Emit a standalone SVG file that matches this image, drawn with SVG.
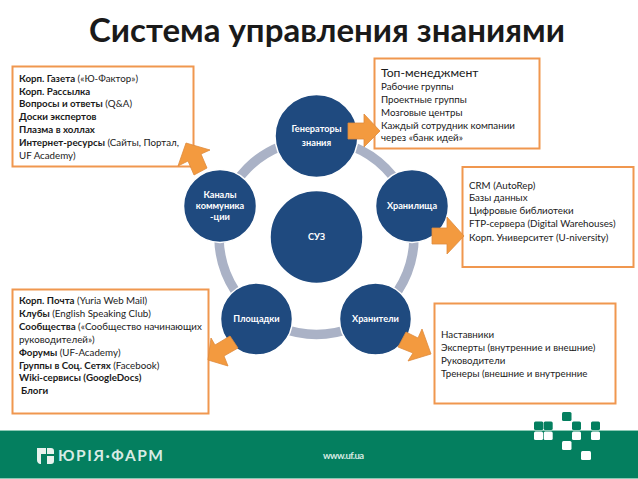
<svg xmlns="http://www.w3.org/2000/svg" width="638" height="479" viewBox="0 0 638 479">
<style>
text{font-family:Lato,"Open Sans","Noto Sans",sans-serif;fill:#1a1a1a}
.t{font-size:9.75px}
.b{font-weight:700}
.box{fill:#fff;stroke:#F0974F;stroke-width:2}
.n{fill:#1F4A7F;stroke:#fff;stroke-width:1.5}
.nt{font-size:9.2px;font-weight:700;fill:#fff;text-anchor:middle}
.ar{fill:#F39A3F;stroke:#DE8A3C;stroke-width:.8}
.sq{fill:#fff}
.sg{fill:#047F5F}
</style>
<rect width="638" height="479" fill="#fff"/>
<text x="327" y="42" text-anchor="middle" font-size="33" class="b" fill="#111">Система управления знаниями</text>
<g id="footer">
<rect x="0" y="430" width="638" height="49" fill="#047F5F"/>
<rect x="0" y="430" width="638" height="1" fill="#8CC9B5"/>
<rect x="0" y="478" width="638" height="1" fill="#8CC9B5"/>
<path d="M37 448h9v6h-5v10h4v0h-5q-3-1-3-4zM47 448h4q3 0 3 3v3h-7zM47 456h7v5q0 3-3 3h-4z" fill="#e8f2ee"/>
<text x="58" y="461" font-size="15.5" style="fill:#d8ebe4" class="b" textLength="105">ЮРІЯ·ФАРМ</text>
<text x="323" y="459" font-size="9.5" style="fill:#d8ebe4" class="b" textLength="41">www.uf.ua</text>
<g class="sg">
<rect x="534" y="421.5" width="9.3" height="8.5" rx="1.5"/><rect x="543.7" y="421.5" width="9" height="8.5" rx="1.5"/>
<rect x="562" y="412" width="9.5" height="9" rx="1.5"/><rect x="572" y="421.5" width="9" height="8.5" rx="1.5"/><rect x="591" y="421.5" width="9" height="8.5" rx="1.5"/>
</g>
<g class="sq">
<rect x="534" y="431.5" width="9" height="8.5" rx="1.5"/><rect x="543.7" y="431.5" width="9" height="8.5" rx="1.5"/><rect x="572" y="431.5" width="9" height="8.5" rx="1.5"/><rect x="591" y="431.5" width="9" height="8.5" rx="1.5"/>
<rect x="562" y="441" width="9.5" height="9" rx="1.5"/><rect x="581" y="451" width="10" height="9" rx="1.5"/>
</g>
</g>
<g id="connectors">
<circle cx="316.5" cy="237" r="97.5" fill="none" stroke="#AAB2C6" stroke-width="9.5"/>
</g>
<g id="node-box-tl">
<rect class="box" x="12.5" y="66.5" width="181" height="100"/>
<text class="t" x="19" y="82"><tspan class="b">Корп. Газета</tspan> («Ю-Фактор»)</text>
<text class="t b" x="19" y="95">Корп. Рассылка</text>
<text class="t" x="19" y="107"><tspan class="b">Вопросы и ответы</tspan> (Q&amp;A)</text>
<text class="t b" x="19" y="120">Доски экспертов</text>
<text class="t b" x="19" y="133">Плазма в холлах</text>
<text class="t" x="19" y="146"><tspan class="b">Интернет-ресурсы</tspan> (Сайты, Портал,</text>
<text class="t" x="19" y="159">UF Academy)</text>
</g>
<g id="node-box-tr">
<rect class="box" x="374.5" y="58.5" width="165" height="90"/>
<text x="381" y="77" font-size="12.2">Топ-менеджмент</text>
<text class="t" x="381" y="90">Рабочие группы</text>
<text class="t" x="381" y="103">Проектные группы</text>
<text class="t" x="381" y="116">Мозговые центры</text>
<text class="t" x="381" y="129">Каждый сотрудник компании</text>
<text class="t" x="381" y="141">через «банк идей»</text>
</g>
<g id="node-box-r">
<rect class="box" x="462.5" y="167" width="171" height="100"/>
<text class="t" x="469" y="189">CRM (AutoRep)</text>
<text class="t" x="469" y="201">Базы данных</text>
<text class="t" x="469" y="214">Цифровые библиотеки</text>
<text class="t" x="469" y="227">FTP-сервера (Digital Warehouses)</text>
<text class="t" x="469" y="241">Корп. Университет (U-niversity)</text>
</g>
<g id="node-box-bl">
<rect class="box" x="12.5" y="289.5" width="196" height="124"/>
<text class="t" x="19" y="304"><tspan class="b">Корп. Почта</tspan> (Yuria Web Mail)</text>
<text class="t" x="19" y="317"><tspan class="b">Клубы</tspan> (English Speaking Club)</text>
<text class="t" x="19" y="330"><tspan class="b">Сообщества</tspan> («Сообщество начинающих</text>
<text class="t" x="19" y="343">руководителей»)</text>
<text class="t" x="19" y="356"><tspan class="b">Форумы</tspan> (UF-Academy)</text>
<text class="t" x="19" y="369"><tspan class="b">Группы в Соц. Сетях</tspan> (Facebook)</text>
<text class="t b" x="19" y="381">Wiki-сервисы (GoogleDocs)</text>
<text class="t b" x="21" y="394">Блоги</text>
</g>
<g id="node-box-br">
<rect class="box" x="434.5" y="303.5" width="181" height="100"/>
<text class="t" x="441" y="338">Наставники</text>
<text class="t" x="441" y="351">Эксперты (внутренние и внешние)</text>
<text class="t" x="441" y="364">Руководители</text>
<text class="t" x="441" y="377">Тренеры (внешние и внутренние</text>
</g>
<g id="node-center"><circle class="n" cx="316.5" cy="237" r="46.5"/><text class="nt" x="316.5" y="240">СУЗ</text></g>
<g id="node-gen"><circle class="n" cx="316.5" cy="136" r="41.5"/><text class="nt" x="316.5" y="132">Генераторы</text><text class="nt" x="316.5" y="146">знания</text></g>
<g id="node-store"><circle class="n" cx="412" cy="206" r="36.5"/><text class="nt" x="412" y="209">Хранилища</text></g>
<g id="node-keepers"><circle class="n" cx="375.5" cy="319" r="36"/><text class="nt" x="375.5" y="322">Хранители</text></g>
<g id="node-plat"><circle class="n" cx="256.5" cy="319" r="36"/><text class="nt" x="256.5" y="322">Площадки</text></g>
<g id="node-chan"><circle class="n" cx="220" cy="206" r="36.5"/><text class="nt" x="220" y="198">Каналы</text><text class="nt" x="220" y="209">коммуника</text><text class="nt" x="220" y="220">-ции</text></g>
<g id="arrows">
<path class="ar" d="M348 123H364V114L380 131L364 147V139H348Z"/>
<path class="ar" d="M432 228H447V217L464 236L447 254V244H432Z"/>
<path class="ar" d="M398 347L406 332L418 338L422 329L431 354L408 361L413 353Z"/>
<path class="ar" d="M208 360L211 338L215 345L230 336L238 348L224 356L228 366Z"/>
<path class="ar" d="M186 143L210 150L201 154L207 168L194 175L188 161L178 166Z"/>
</g>
</svg>
